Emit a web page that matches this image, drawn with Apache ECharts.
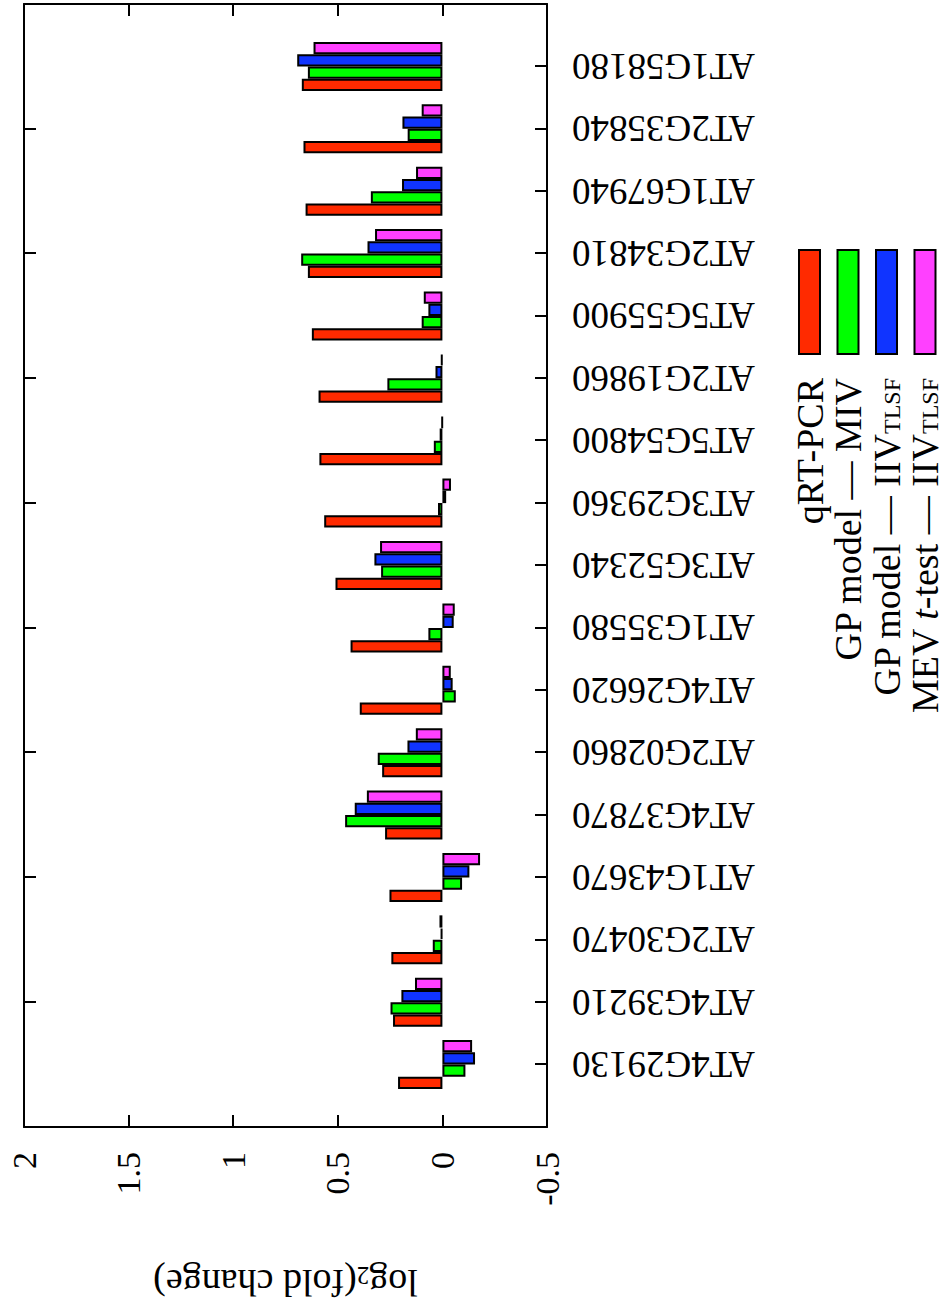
<!DOCTYPE html>
<html>
<head>
<meta charset="utf-8">
<script src="https://cdn.jsdelivr.net/npm/echarts@6/dist/echarts.min.js"></script>
<style>
  html, body { margin: 0; padding: 0; background: #fff; overflow: hidden; width: 948px; height: 1310px; }
  /* The figure is laid out in landscape and turned a quarter turn to sit on the portrait page */
  #chart { position: absolute; left: 0; top: 0; width: 1310px; height: 948px;
           transform-origin: 0 0; transform: translate(0, 1310px) rotate(-90deg); }
</style>
</head>
<body>
<div id="chart"></div>
<script>
// Genes, in plotting order along the category axis
const genes = ['AT4G29130', 'AT4G39210', 'AT2G30470', 'AT1G43670', 'AT4G37870', 'AT2G02860',
               'AT4G26620', 'AT1G35580', 'AT3G52340', 'AT3G29360', 'AT5G54800', 'AT2G19860',
               'AT5G55900', 'AT2G34810', 'AT1G67940', 'AT2G35840', 'AT1G58180'];

// log2(fold change) per gene
const qpcr   = [0.212, 0.236, 0.244, 0.253, 0.274, 0.288, 0.395, 0.439, 0.511, 0.565, 0.588, 0.592, 0.624, 0.643, 0.654, 0.664, 0.672];
const gpMIV  = [-0.110, 0.248, 0.046, -0.094, 0.465, 0.309, -0.064, 0.067, 0.293, 0.021, 0.041, 0.263, 0.099, 0.675, 0.342, 0.166, 0.643];
const gpIIV  = [-0.156, 0.196, 0.008, -0.129, 0.419, 0.167, -0.049, -0.054, 0.325, -0.018, 0.013, 0.033, 0.067, 0.358, 0.193, 0.191, 0.694];
const mevIIV = [-0.142, 0.131, 0.014, -0.180, 0.361, 0.127, -0.040, -0.059, 0.298, -0.041, 0.002, 0.006, 0.089, 0.322, 0.126, 0.099, 0.616];

const seriesNames = ['qRT-PCR', 'GP model \u2014 MIV', 'GP model \u2014 IIV TLSF', 'MEV t-test \u2014 IIV TLSF'];
const legendText = {
  'qRT-PCR': 'qRT-PCR',
  'GP model \u2014 MIV': 'GP model \u2014 MIV',
  'GP model \u2014 IIV TLSF': 'GP model \u2014 IIV{sub|TLSF}',
  'MEV t-test \u2014 IIV TLSF': 'MEV {it|t}-test \u2014 IIV{sub|TLSF}'
};
const colors = ['#ff2a00', '#00ff00', '#1034ff', '#ff40ff'];

const FONT = 'Liberation Serif';
const FS = 34;        // tick labels
const FS_CAT = 37;    // gene labels
const FS_KEY = 38;    // legend entries
const FS_NAME = 38;   // axis title
const KEY_PITCH = 38.5;
const KEY_FIRST_ROW = 809.5;   // centre of the first key row

// Category axis spans one empty slot on each side of the genes (range -1 .. 17)
const cats = [''].concat(genes, ['']);
const pad = arr => [null].concat(arr, [null]);
const values = [qpcr, gpMIV, gpIIV, mevIIV];

const tickStyle = { show: true, inside: true, length: 12, lineStyle: { color: '#000', width: 2 } };
const lineStyle = { show: true, onZero: false, lineStyle: { color: '#000', width: 2 } };

const chart = echarts.init(document.getElementById('chart'), null, { renderer: 'svg', width: 1310, height: 948 });

chart.setOption({
  animation: false,
  backgroundColor: '#fff',
  grid: { left: 183, right: 4, top: 24, bottom: 401, containLabel: false },
  legend: {
    orient: 'vertical',
    align: 'right',
    right: 249,
    top: KEY_FIRST_ROW - FS_KEY / 2,
    height: 400,
    padding: 0,
    itemWidth: 104,
    itemHeight: 21,
    itemGap: KEY_PITCH - FS_KEY,
    selectedMode: false,
    icon: 'rect',
    data: seriesNames,
    formatter: name => legendText[name],
    itemStyle: { borderColor: '#000', borderWidth: 2 },
    textStyle: {
      fontFamily: FONT, fontSize: FS_KEY, color: '#000', lineHeight: 34, padding: [0, 19, 0, 0],
      rich: {
        // subscript: a short token sitting at the bottom of the line
        sub: { fontFamily: FONT, fontSize: 24, color: '#000', lineHeight: 12, verticalAlign: 'bottom' },
        it: { fontFamily: FONT, fontSize: FS_KEY, fontStyle: 'italic', color: '#000', lineHeight: 34 }
      }
    }
  },
  xAxis: [
    {
      type: 'category', data: cats, boundaryGap: false, position: 'bottom',
      axisLine: lineStyle, axisTick: tickStyle,
      axisLabel: { interval: 0, rotate: 90, margin: 25, fontFamily: FONT, fontSize: FS_CAT, color: '#000' }
    },
    {
      type: 'category', data: cats, boundaryGap: false, position: 'top',
      axisLine: lineStyle, axisTick: tickStyle, axisLabel: { show: false }
    }
  ],
  yAxis: [
    {
      type: 'value', min: -0.5, max: 2, interval: 0.5, position: 'left',
      name: '{a|log}{s|2}{a|(fold change)}', nameLocation: 'middle', nameRotate: 90, nameGap: 136,
      nameTextStyle: {
        rich: {
          a: { fontFamily: FONT, fontSize: FS_NAME, color: '#000', lineHeight: 40 },
          s: { fontFamily: FONT, fontSize: 25, color: '#000', lineHeight: 20, verticalAlign: 'bottom' }
        }
      },
      axisLine: lineStyle, axisTick: tickStyle, splitLine: { show: false },
      axisLabel: { margin: 25, fontFamily: FONT, fontSize: FS, color: '#000' }
    },
    {
      type: 'value', min: -0.5, max: 2, interval: 0.5, position: 'right',
      axisLine: lineStyle, axisTick: tickStyle, splitLine: { show: false }, axisLabel: { show: false }
    }
  ],
  series: seriesNames.map((name, i) => ({
    name: name,
    type: 'bar',
    xAxisIndex: 0,
    yAxisIndex: 0,
    barGap: '0%',
    barCategoryGap: '21.5%',
    data: pad(values[i]),
    itemStyle: { color: colors[i], borderColor: '#000', borderWidth: 2 },
    emphasis: { disabled: true }
  }))
});
</script>
</body>
</html>
